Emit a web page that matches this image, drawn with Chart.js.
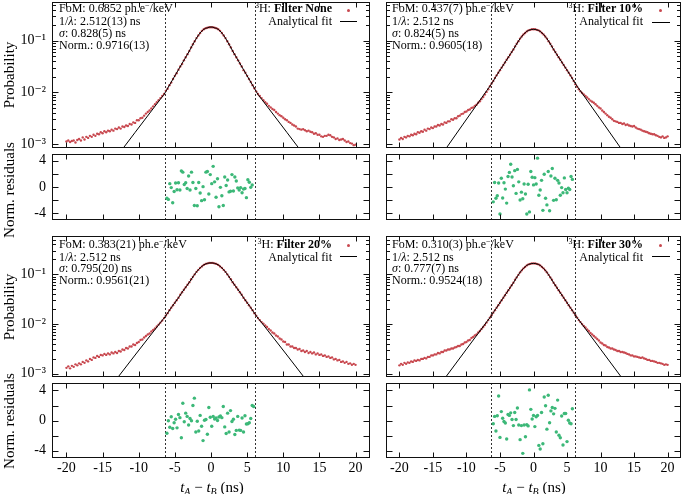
<!DOCTYPE html>
<html>
<head>
<meta charset="utf-8">
<script src="https://cdn.jsdelivr.net/npm/chart.js@4.4.0/dist/chart.umd.min.js"></script>
<style>
  html, body { margin: 0; padding: 0; background: #fff; }
  body { position: relative; width: 685px; height: 494px; overflow: hidden; font-family: "Liberation Serif", "DejaVu Serif", serif; color: #000; }
  canvas { position: absolute; }
  .stats { position: absolute; font-size: 12px; line-height: 11.7px; white-space: nowrap; }
  .legend { position: absolute; font-size: 12px; line-height: 11.7px; white-space: nowrap; text-align: right; }
  .sup { font-size: 8px; position: relative; top: -4px; }
  .sub { font-size: 10px; position: relative; top: 3px; font-style: italic; }
  .dot { position: absolute; width: 3px; height: 3px; border-radius: 50%; background: #c8484f; }
  .seg { position: absolute; height: 1px; background: #000; }
  .ytitle { position: absolute; font-size: 15px; white-space: nowrap; transform: translate(-50%, -50%) rotate(-90deg); }
  .xtitle { position: absolute; font-size: 15px; white-space: nowrap; transform: translate(-50%, -50%); }
</style>
</head>
<body>
<canvas id="probNoneChart" width="374" height="154" style="left:0;top:-2px"></canvas>
<canvas id="resNoneChart" width="374" height="74" style="left:0;top:150px"></canvas>
<canvas id="prob10Chart" width="303" height="154" style="left:382px;top:-2px"></canvas>
<canvas id="res10Chart" width="303" height="74" style="left:382px;top:150px"></canvas>
<canvas id="prob20Chart" width="374" height="149" style="left:0;top:232px"></canvas>
<canvas id="res20Chart" width="374" height="115" style="left:0;top:379px"></canvas>
<canvas id="prob30Chart" width="303" height="149" style="left:382px;top:232px"></canvas>
<canvas id="res30Chart" width="303" height="115" style="left:382px;top:379px"></canvas>

<!-- fit results -->
<div class="stats" style="left:59px;top:3.4px">FoM: 0.6852 ph.e<span class="sup">−</span>/keV<br>1/<i>λ</i>: 2.512(13) ns<br><i>σ</i>: 0.828(5) ns<br>Norm.: 0.9716(13)</div>
<div class="stats" style="left:392px;top:3.4px">FoM: 0.437(7) ph.e<span class="sup">−</span>/keV<br>1/<i>λ</i>: 2.512 ns<br><i>σ</i>: 0.824(5) ns<br>Norm.: 0.9605(18)</div>
<div class="stats" style="left:59px;top:239px">FoM: 0.383(21) ph.e<span class="sup">−</span>/keV<br>1/<i>λ</i>: 2.512 ns<br><i>σ</i>: 0.795(20) ns<br>Norm.: 0.9561(21)</div>
<div class="stats" style="left:392px;top:239px">FoM: 0.310(3) ph.e<span class="sup">−</span>/keV<br>1/<i>λ</i>: 2.512 ns<br><i>σ</i>: 0.777(7) ns<br>Norm.: 0.9524(18)</div>

<!-- legends -->
<div class="legend" style="right:353px;top:3.4px"><span class="sup">3</span>H: <b>Filter None</b><br>Analytical fit</div>
<div class="dot" style="left:346.5px;top:8.5px"></div>
<div class="seg" style="left:340px;top:21px;width:17px"></div>
<div class="legend" style="right:42px;top:3.4px"><span class="sup">3</span>H: <b>Filter 10%</b><br>Analytical fit</div>
<div class="dot" style="left:658.5px;top:9px"></div>
<div class="seg" style="left:652px;top:21.5px;width:18px"></div>
<div class="legend" style="right:353px;top:239px"><span class="sup">3</span>H: <b>Filter 20%</b><br>Analytical fit</div>
<div class="dot" style="left:346.5px;top:243.5px"></div>
<div class="seg" style="left:340px;top:256px;width:17px"></div>
<div class="legend" style="right:42px;top:239px"><span class="sup">3</span>H: <b>Filter 30%</b><br>Analytical fit</div>
<div class="dot" style="left:658.5px;top:243.5px"></div>
<div class="seg" style="left:652px;top:256px;width:18px"></div>

<!-- axis titles -->
<div class="ytitle" style="left:9px;top:75px">Probability</div>
<div class="ytitle" style="left:9px;top:190px">Norm. residuals</div>
<div class="ytitle" style="left:9px;top:307px">Probability</div>
<div class="ytitle" style="left:9px;top:421px">Norm. residuals</div>
<div class="xtitle" style="left:212px;top:487px"><i>t</i><span class="sub">A</span> − <i>t</i><span class="sub">B</span> (ns)</div>
<div class="xtitle" style="left:534px;top:487px"><i>t</i><span class="sub">A</span> − <i>t</i><span class="sub">B</span> (ns)</div>

<script>
// histogram bins of tA - tB (ns)
const binFirst = -20;
const binStep = 0.25;

// probability per bin, written as 100*log10(p), one row per 5 ns
const probNone = [
    -295,-293,-296,-294,-293,-297,-292,-290,-293,-287,-291,-286,-288,-284,-286,-282,-284,-280,-281,-277,
    -279,-275,-277,-274,-275,-272,-274,-270,-271,-268,-270,-266,-267,-264,-265,-261,-262,-258,-259,-254,
    -254,-250,-249,-245,-241,-238,-235,-231,-227,-223,-219,-215,-211,-207,-203,-197,-193,-186,-181,-174,
    -168,-163,-156,-150,-145,-138,-132,-126,-120,-113,-107,-101,-95,-90,-85,-81,-78,-76,-75,-74,
    -74,-74,-75,-76,-78,-81,-85,-90,-95,-101,-107,-113,-120,-126,-132,-138,-144,-150,-157,-162,
    -168,-174,-180,-186,-192,-198,-203,-207,-211,-215,-219,-222,-226,-229,-232,-234,-238,-241,-244,-246,
    -249,-252,-254,-257,-259,-262,-264,-266,-270,-271,-272,-271,-273,-275,-274,-276,-277,-280,-279,-282,
    -282,-285,-286,-284,-284,-282,-283,-286,-287,-290,-289,-292,-291,-290,-293,-296,-295,-298,-299,-302,
    -301
];
const prob10 = [
    -291,-288,-290,-286,-287,-284,-285,-282,-283,-280,-281,-277,-278,-275,-276,-272,-274,-270,-271,-268,
    -269,-266,-266,-263,-264,-261,-262,-258,-259,-256,-256,-252,-253,-250,-250,-246,-245,-242,-241,-238,
    -237,-234,-233,-230,-229,-226,-224,-220,-217,-213,-209,-204,-199,-194,-188,-183,-178,-172,-167,-162,
    -157,-152,-147,-142,-137,-132,-127,-122,-117,-111,-106,-101,-96,-92,-88,-85,-82,-80,-79,-78,
    -78,-78,-79,-80,-82,-85,-88,-92,-96,-101,-106,-111,-117,-122,-127,-132,-137,-142,-147,-152,
    -157,-162,-167,-172,-178,-184,-189,-194,-198,-201,-204,-207,-210,-213,-216,-218,-220,-223,-226,-229,
    -231,-235,-238,-241,-244,-247,-249,-252,-255,-256,-257,-259,-259,-261,-260,-263,-262,-264,-265,-266,
    -265,-268,-270,-271,-272,-274,-275,-276,-277,-279,-280,-281,-281,-283,-284,-286,-287,-285,-288,-287,
    -285
];
const prob20 = [
    -288,-285,-289,-284,-286,-281,-283,-279,-281,-276,-278,-273,-275,-270,-272,-267,-268,-264,-266,-262,
    -263,-260,-262,-259,-261,-257,-259,-256,-258,-254,-255,-251,-252,-248,-249,-245,-245,-241,-242,-238,
    -236,-232,-231,-227,-224,-221,-219,-215,-212,-209,-205,-201,-197,-193,-188,-183,-178,-172,-167,-162,
    -157,-152,-147,-141,-136,-131,-126,-121,-116,-110,-105,-100,-95,-91,-87,-84,-81,-79,-78,-77,
    -77,-77,-78,-79,-81,-84,-87,-91,-95,-100,-105,-110,-116,-121,-126,-131,-136,-141,-147,-152,
    -157,-162,-167,-172,-178,-183,-188,-192,-196,-199,-203,-206,-210,-213,-217,-219,-223,-225,-229,-231,
    -235,-236,-241,-241,-245,-245,-248,-248,-251,-250,-254,-253,-256,-254,-258,-256,-259,-257,-261,-259,
    -262,-261,-264,-263,-266,-265,-268,-267,-271,-270,-273,-272,-276,-275,-278,-276,-280,-279,-282,-280,
    -282
];
const prob30 = [
    -283,-280,-282,-278,-280,-277,-278,-275,-276,-273,-274,-272,-273,-270,-270,-268,-269,-266,-266,-263,
    -263,-261,-261,-258,-259,-256,-256,-253,-253,-251,-251,-249,-249,-247,-246,-244,-244,-241,-240,-237,
    -236,-233,-232,-228,-226,-223,-221,-217,-214,-210,-206,-202,-197,-192,-187,-182,-177,-172,-167,-162,
    -157,-152,-147,-142,-137,-132,-127,-122,-117,-111,-106,-101,-96,-92,-88,-85,-82,-80,-79,-78,
    -78,-78,-79,-80,-82,-85,-88,-92,-96,-101,-106,-111,-117,-122,-127,-132,-137,-142,-147,-152,
    -157,-162,-167,-172,-177,-182,-187,-192,-196,-200,-204,-207,-211,-214,-218,-221,-224,-227,-230,-233,
    -237,-239,-242,-243,-246,-247,-249,-249,-251,-252,-254,-254,-256,-256,-257,-258,-260,-261,-263,-263,
    -265,-265,-266,-267,-268,-267,-269,-270,-272,-272,-274,-274,-275,-276,-278,-278,-279,-280,-282,-281,
    -282
];

// analytical fit, also 100*log10(p)
const fitT = [-14, -7, -6.5, -6, -5.5, -5, -4.5, -4, -3.5, -3, -2.5, -2, -1.5, -1, -0.5, 0,
              0.5, 1, 1.5, 2, 2.5, 3, 3.5, 4, 4.5, 5, 5.5, 6, 6.5, 7, 14];
const fitNone = [-342,-213,-204,-192,-180,-168,-156,-144,-132,-120,-107,-95,-85,-78,-75,-73.5,
                 -75,-78,-85,-95,-107,-120,-132,-144,-156,-168,-180,-192,-204,-213,-342];
const fit10 = [-326,-197,-188,-178,-167,-157,-147,-137,-127,-117,-106,-96,-88,-82,-79,-78,
               -79,-82,-88,-96,-106,-117,-127,-137,-147,-157,-167,-178,-188,-197,-326];
const fit20 = [-328,-197,-188,-178,-167,-157,-147,-136,-126,-116,-105,-95,-87,-81,-78,-77,
               -78,-81,-87,-95,-105,-116,-126,-136,-147,-157,-167,-178,-188,-197,-328];
const fit30 = [-323,-196,-187,-177,-167,-157,-147,-137,-127,-117,-106,-96,-88,-82,-79,-78,
               -79,-82,-88,-96,-106,-117,-127,-137,-147,-157,-167,-177,-187,-196,-323];

// normalised residuals inside the fit window
const resStep = 0.2;
const resStartNone = -6.1;
const resNone = [-1.70,-1.88,0.51,-0.09,-2.39,-0.69,0.6,-0.41,0.64,-0.46,2.44,2.25,0.37,0.64,-0.23,1.66,-0.46,2.25,0.69,-2.8,
                 -0.23,-2.85,0.69,-0.92,-2.07,0.05,-1.93,2.25,2.34,-1.06,1.88,0.51,3.13,0.78,-1.56,1.24,-2.99,-0.05,-1.33,-2.8,
                 1.51,0.23,1.05,-0.74,-0.64,1.88,-0.6,1.51,0.92,-0.14,-0.46,-0.09,-0.87,-0.32,-0.23,-1.61,1.1,0.73,-0.05,0.3];
const resStart10 = -6.0;
const res10 = [-2.25,0.69,-1.70,-1.33,0.6,-4.09,1.33,-1.66,0.64,-0.32,-2.44,1.6,2.21,3.45,1.52,0.18,2.48,-0.97,2.67,0.78,
               -1.98,-0.78,-1.79,0.46,-1.06,-4.09,0.41,-3.77,2.34,1.47,0.32,1.42,0.46,4.37,-1.24,-0.46,1.01,-3.54,1.93,-1.70,
               -2.71,2.34,-3.59,1.66,2.8,-2.02,1.33,-1.93,1.01,0.6,-1.24,-0.09,-0.87,1.38,-0.37,-0.87,-0.18,-0.37,1.6,1.15];
const resStart20 = -6.1;
const res20 = [-1.70,-0.04,-0.9,0.51,-1.06,-0.3,0.17,-0.98,0.81,0.38,-2.3,2.30,-0.17,0.98,0.55,-0.6,0.26,-0.04,2.0,2.98,
               -1.53,-0.09,-1.4,0.68,-0.77,-2.68,0.04,0.13,-1.83,1.74,0.43,-0.77,0.55,0.21,0.34,0,0.47,0.6,0.38,1.87,
               -0.85,-1.74,0.98,-1.53,1.32,-0.13,0.17,-1.87,-1.32,0.55,-1.28,-1.32,0.34,-1.53,0.64,-0.47,-0.43,-0.3,0.26,2.0,1.87];
const resStart30 = -6.0;
const res30 = [-0.43,0.55,-1.4,0.64,3.27,-2.25,1.19,0.3,-0.13,-0.34,-2.47,0.81,0.68,1.02,0.13,-0.68,1.06,0.13,1.66,-0.6,
               -2.55,-0.68,-4.38,-0.6,-2.17,-0.55,-0.72,4.08,1.49,0.2,0.68,-0.81,0.5,0.68,-3.32,-3.79,1.06,-3.1,3.14,1.96,
               -1.15,3.36,-0.3,1.28,1.74,0.89,1.62,-1.53,2.72,-1.96,-2.3,0.6,-3.27,0.94,0.94,-2.81,0.04,-0.34,-0.43,1.57];

// fit window edges (ns)
const cutsLeft = [-6.4, 6.1];
const cutsRight = [-6.4, 6.2];

const xTickValues = [-20, -15, -10, -5, 0, 5, 10, 15, 20];
const logTickValues = [1e-3, 1e-2, 1e-1];
const resTickValues = [-4, -2, 0, 2, 4];
const superscript = { "-1": "⁻¹", "-2": "⁻²", "-3": "⁻³" };

const logMinor = [];
logTickValues.forEach((d) => {
    for (let k = 2; k <= 9; k++) logMinor.push(k * d);
});

Chart.defaults.font.family = '"Liberation Serif", "DejaVu Serif", serif';
Chart.defaults.font.size = 14;
Chart.defaults.color = "#000";

// gnuplot-like frame: box, inward ticks on every side, dotted fit window
const frameTicks = {
    id: "frameTicks",
    beforeDatasetsDraw(chart, args, o) {
        const { ctx, chartArea: a, scales } = chart;
        ctx.save();
        ctx.strokeStyle = "#333";
        ctx.lineWidth = 1;
        ctx.setLineDash([2, 2]);
        o.cuts.forEach((v) => {
            const px = Math.round(scales.x.getPixelForValue(v)) + 0.5;
            ctx.beginPath();
            ctx.moveTo(px, a.top);
            ctx.lineTo(px, a.bottom);
            ctx.stroke();
        });
        ctx.restore();
    },
    afterDatasetsDraw(chart, args, o) {
        const { ctx, chartArea: a, scales } = chart;
        const L = a.left + 0.5, R = a.right - 0.5, T = a.top + 0.5, B = a.bottom - 0.5;
        ctx.save();
        ctx.strokeStyle = "#111";
        ctx.lineWidth = 1;
        ctx.strokeRect(L, T, R - L, B - T);
        ctx.beginPath();
        xTickValues.forEach((v) => {
            const px = Math.round(scales.x.getPixelForValue(v)) + 0.5;
            ctx.moveTo(px, B); ctx.lineTo(px, B - 5);
            ctx.moveTo(px, T); ctx.lineTo(px, T + 5);
        });
        const yTicks = (list, len) => list.forEach((v) => {
            if (v < scales.y.min || v > scales.y.max) return;
            const py = Math.round(scales.y.getPixelForValue(v)) + 0.5;
            ctx.moveTo(L, py); ctx.lineTo(L + len, py);
            ctx.moveTo(R, py); ctx.lineTo(R - len, py);
        });
        yTicks(o.yMajor, 6);
        yTicks(o.yMinor, 3.5);
        ctx.stroke();
        ctx.restore();
    }
};

function toLogPoints(xs, values) {
    return values.map((v, i) => ({ x: xs[i], y: Math.pow(10, v / 100) }));
}

function binCenters(n, first, step) {
    let xs = [];
    for (let i = 0; i < n; i++) xs.push(+(first + i * step).toFixed(2));
    return xs;
}

function makeChart(id, opts) {
    const isProb = opts.kind === "prob";
    const yScale = isProb ? {
        type: "logarithmic",
        min: opts.yMin,
        max: opts.yMax,
        afterBuildTicks: (s) => { s.ticks = logTickValues.map((v) => ({ value: v })); },
        ticks: {
            padding: 6,
            callback: (v) => "10" + superscript[String(Math.round(Math.log10(v)))]
        }
    } : {
        type: "linear",
        min: -5,
        max: 5,
        afterBuildTicks: (s) => { s.ticks = resTickValues.map((v) => ({ value: v })); },
        ticks: { padding: 6 }
    };
    yScale.display = opts.left;
    yScale.grid = { display: false, drawTicks: false };
    yScale.border = { display: false };
    yScale.afterFit = (s) => { s.width = opts.left ? 52 : 0; s.paddingTop = 0; s.paddingBottom = 0; };

    return new Chart(document.getElementById(id), {
        type: "scatter",
        data: { datasets: opts.datasets },
        plugins: [frameTicks],
        options: {
            responsive: false,
            animation: false,
            events: [],
            layout: { padding: opts.padding },
            plugins: {
                legend: { display: false },
                tooltip: { enabled: false },
                frameTicks: {
                    cuts: opts.cuts,
                    yMajor: isProb ? logTickValues : resTickValues,
                    yMinor: isProb ? logMinor : []
                }
            },
            scales: {
                x: {
                    type: "linear",
                    min: -22,
                    max: 22,
                    display: opts.bottom,
                    grid: { display: false, drawTicks: false },
                    border: { display: false },
                    afterBuildTicks: (s) => { s.ticks = xTickValues.map((v) => ({ value: v })); },
                    afterFit: (s) => { s.height = opts.bottom ? 36 : 0; s.paddingLeft = 0; s.paddingRight = 0; },
                    ticks: { padding: 2, maxRotation: 0, autoSkip: false }
                },
                y: yScale
            }
        }
    });
}

function probDatasets(values, fit) {
    return [
        {
            data: toLogPoints(binCenters(values.length, binFirst, binStep), values),
            backgroundColor: "#c8484f",
            borderWidth: 0,
            pointRadius: 1.2,
            showLine: false,
            order: 2
        },
        {
            data: toLogPoints(fitT, fit),
            borderColor: "#000",
            borderWidth: 1,
            pointRadius: 0,
            showLine: true,
            cubicInterpolationMode: "monotone",
            order: 1
        }
    ];
}

function resDatasets(values, start) {
    const xs = binCenters(values.length, start, resStep);
    return [{
        data: values.map((v, i) => ({ x: xs[i], y: v })),
        backgroundColor: "#3cb878",
        borderWidth: 0,
        pointRadius: 1.7,
        showLine: false
    }];
}

const rowTop = { yMin: 8.41e-4, yMax: 0.56 };
const rowBottom = { yMin: 8.63e-4, yMax: 0.59 };

makeChart("probNoneChart", { kind: "prob", left: true, bottom: false, cuts: cutsLeft, ...rowTop,
    padding: { left: 0, right: 2, top: 2, bottom: 1 }, datasets: probDatasets(probNone, fitNone) });
makeChart("resNoneChart", { kind: "res", left: true, bottom: false, cuts: cutsLeft,
    padding: { left: 0, right: 2, top: 1, bottom: 1 }, datasets: resDatasets(resNone, resStartNone) });
makeChart("prob10Chart", { kind: "prob", left: false, bottom: false, cuts: cutsRight, ...rowTop,
    padding: { left: 2, right: 1, top: 2, bottom: 1 }, datasets: probDatasets(prob10, fit10) });
makeChart("res10Chart", { kind: "res", left: false, bottom: false, cuts: cutsRight,
    padding: { left: 2, right: 1, top: 1, bottom: 1 }, datasets: resDatasets(res10, resStart10) });
makeChart("prob20Chart", { kind: "prob", left: true, bottom: false, cuts: cutsLeft, ...rowBottom,
    padding: { left: 0, right: 2, top: 2, bottom: 1 }, datasets: probDatasets(prob20, fit20) });
makeChart("res20Chart", { kind: "res", left: true, bottom: true, cuts: cutsLeft,
    padding: { left: 0, right: 2, top: 1, bottom: 0 }, datasets: resDatasets(res20, resStart20) });
makeChart("prob30Chart", { kind: "prob", left: false, bottom: false, cuts: cutsRight, ...rowBottom,
    padding: { left: 2, right: 1, top: 2, bottom: 1 }, datasets: probDatasets(prob30, fit30) });
makeChart("res30Chart", { kind: "res", left: false, bottom: true, cuts: cutsRight,
    padding: { left: 2, right: 1, top: 1, bottom: 0 }, datasets: resDatasets(res30, resStart30) });
</script>
</body>
</html>
